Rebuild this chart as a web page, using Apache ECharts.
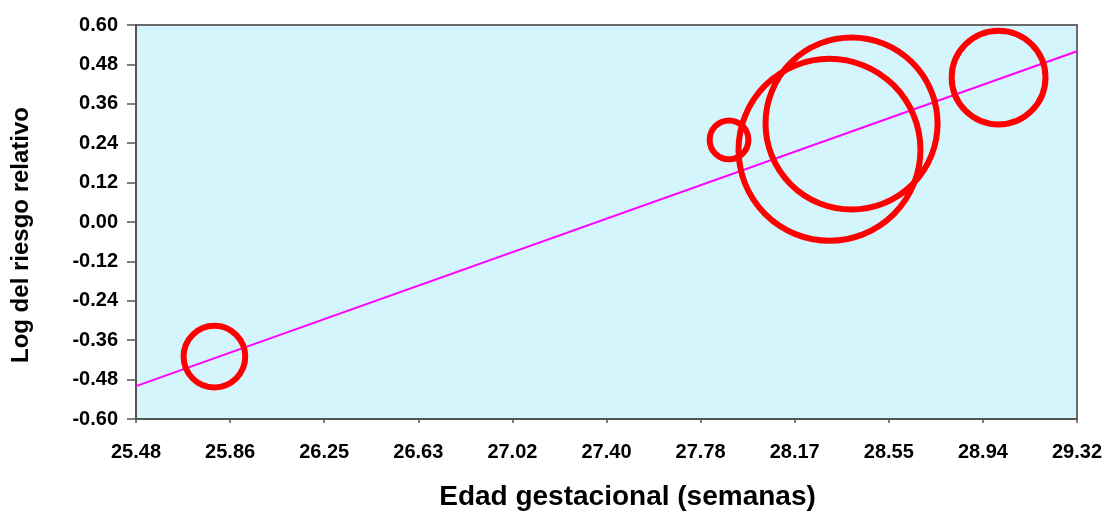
<!DOCTYPE html>
<html>
<head>
<meta charset="utf-8">
<script src="https://cdn.jsdelivr.net/npm/echarts@6/dist/echarts.min.js"></script>
<style>
  html, body { margin: 0; padding: 0; background: #ffffff; }
  #chart { width: 1107px; height: 511px; }
</style>
</head>
<body>
<div id="chart"></div>
<script>
// Meta-regression: gestational age vs. log relative risk
const studyWeeks  = [25.80, 27.90, 28.31, 28.40, 29.00];
const studyLogRR  = [-0.41, 0.25, 0.22, 0.30, 0.44];
const studyWeight = [38, 15, 331, 296, 88];

// Fitted regression line endpoints
const fitWeeks = [25.48, 29.32];
const fitLogRR = [-0.50, 0.52];

// Axis ticks
const xStart = 25.48;
const xStep = 0.384;
const xSteps = 10;
const yMin = -0.60, yMax = 0.60, yStep = 0.12;

const FONT = '"Liberation Sans", Arial, sans-serif';
const AXIS_COLOR = '#555555';

// x values are measured from the first tick so the interval lines up with min
const toAxisX = w => w - xStart;

const bubbleData = studyWeeks.map((w, i) => ({
  value: [toAxisX(w), studyLogRR[i]],
  symbolSize: 10 * Math.sqrt(studyWeight[i])
}));
const lineData = fitWeeks.map((w, i) => [toAxisX(w), fitLogRR[i]]);

const chart = echarts.init(document.getElementById('chart'), null, { renderer: 'canvas' });
chart.setOption({
  animation: false,
  backgroundColor: '#ffffff',
  grid: {
    left: 136, right: 30, top: 25, bottom: 92,
    containLabel: false,
    outerBoundsMode: 'none',
    show: true,
    backgroundColor: '#D5F5FD',
    borderColor: '#6a6a6a',
    borderWidth: 2
  },
  xAxis: {
    type: 'value',
    min: 0,
    max: xStep * xSteps,
    interval: xStep,
    name: 'Edad gestacional (semanas)',
    nameLocation: 'middle',
    nameGap: 64,
    nameTextStyle: {
      fontFamily: FONT, fontSize: 28, fontWeight: 'bold', color: '#000000',
      padding: [0, 0, 0, 42]
    },
    axisLine: { onZero: false, lineStyle: { color: AXIS_COLOR, width: 2 } },
    axisTick: { show: true, length: 4, lineStyle: { color: AXIS_COLOR, width: 1.5 } },
    axisLabel: {
      margin: 23,
      fontFamily: FONT, fontSize: 20, fontWeight: 'bold', color: '#000000',
      formatter: v => (v + xStart).toFixed(2)
    },
    splitLine: { show: false }
  },
  yAxis: {
    type: 'value',
    min: yMin,
    max: yMax,
    interval: yStep,
    name: 'Log del riesgo relativo',
    nameLocation: 'middle',
    nameGap: 103,
    nameTextStyle: {
      fontFamily: FONT, fontSize: 24, fontWeight: 'bold', color: '#000000',
      padding: [0, 26, 0, 0]
    },
    axisLine: { show: true, lineStyle: { color: AXIS_COLOR, width: 2 } },
    axisTick: { show: true, length: 9, lineStyle: { color: AXIS_COLOR, width: 1.5 } },
    axisLabel: {
      margin: 18,
      fontFamily: FONT, fontSize: 20, fontWeight: 'bold', color: '#000000',
      formatter: v => (Math.abs(v) < 1e-9 ? 0 : v).toFixed(2)
    },
    splitLine: { show: false }
  },
  series: [
    {
      name: 'Ajuste',
      type: 'line',
      data: lineData,
      showSymbol: false,
      symbol: 'none',
      lineStyle: { color: '#FF00FF', width: 2 },
      z: 2
    },
    {
      name: 'Estudios',
      type: 'scatter',
      data: bubbleData,
      symbol: 'circle',
      itemStyle: {
        color: 'rgba(0,0,0,0)',
        borderColor: '#FF0000',
        borderWidth: 6,
        opacity: 1
      },
      z: 3
    }
  ]
});
</script>
</body>
</html>
